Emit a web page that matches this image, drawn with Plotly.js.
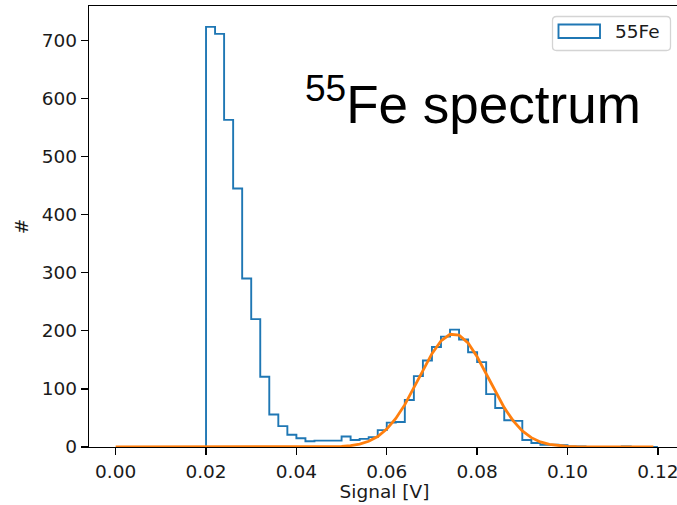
<!DOCTYPE html>
<html>
<head>
<meta charset="utf-8">
<script src="https://cdn.plot.ly/plotly-3.0.1.min.js"></script>
<style>
  html, body { margin: 0; padding: 0; overflow: hidden; background: #fff; }
  #chart { width: 684px; height: 505px; }
</style>
</head>
<body>
<div id="chart"></div>
<script>
// ---- data ----
const seriesName = "55Fe";
const binLow = 0.02;
const binWidth = 0.002;
// counts per 0.002 V bin, from 0.020 V to 0.120 V
const counts = [723, 711, 563, 445, 290, 220, 121, 56, 36, 21,
                15, 10, 11, 11, 11, 18, 12, 14, 17, 29,
                42, 43, 81, 122, 149, 172, 190, 202, 185, 163,
                146, 91, 67, 46, 45, 12, 7, 4, 4, 3,
                1, 1, 0, 0, 0, 0, 1, 0, 0, 0];
// fitted curve
const fitX = [0.000, 0.020, 0.040, 0.044, 0.046, 0.048, 0.050, 0.052, 0.054, 0.056, 0.058,
              0.060, 0.062, 0.064, 0.066, 0.068, 0.070, 0.072, 0.074, 0.076, 0.078,
              0.080, 0.082, 0.084, 0.086, 0.088, 0.090, 0.092, 0.094, 0.096, 0.098,
              0.100, 0.102, 0.104, 0.106, 0.110, 0.119];
const fitY = [0, 0, 0.01, 0.07, 0.18, 0.46, 1.1, 2.4, 5.1, 9.9, 18.1,
              30.8, 49.0, 72.9, 101.5, 132.0, 160.6, 182.5, 194.0, 192.6, 178.9,
              155.2, 126.0, 95.5, 67.7, 44.9, 27.8, 16.1, 8.7, 4.4, 2.1,
              0.9, 0.4, 0.15, 0.05, 0.01, 0];
const xTickVals = [0, 0.02, 0.04, 0.06, 0.08, 0.10, 0.12];
const xTickText = ["0.00", "0.02", "0.04", "0.06", "0.08", "0.10", "0.12"];
const yTickVals = [0, 100, 200, 300, 400, 500, 600, 700];
const xLabel = "Signal [V]";
const yLabel = "#";
const titleText = "<sup>55</sup>Fe spectrum";

// ---- build step outline ----
const stepX = [binLow];
const stepY = [0];
for (let i = 0; i < counts.length; i++) {
  stepX.push(binLow + i * binWidth);
  stepY.push(counts[i]);
}
stepX.push(binLow + counts.length * binWidth);
stepY.push(0);

// ---- layout geometry (pixels) ----
const W = 684, H = 505;
const M = { l: 89, r: 4, t: 6, b: 58 };
const PW = W - M.l - M.r, PH = H - M.t - M.b;
const px = (x) => (x - M.l) / PW;
const py = (y) => (H - M.b - y) / PH;

const tickFont = { family: "DejaVu Sans", size: 18.5, color: "#1a1a1a" };

// legend box (rounded)
const lb = { x0: 552.5, x1: 670.5, y0: 16.5, y1: 50.5, r: 4 };
function roundedPath(b) {
  const rx = b.r / PW, ry = b.r / PH;
  const x0 = px(b.x0), x1 = px(b.x1), yt = py(b.y0), yb = py(b.y1);
  return `M ${x0 + rx} ${yt} L ${x1 - rx} ${yt} Q ${x1} ${yt} ${x1} ${yt - ry} ` +
         `L ${x1} ${yb + ry} Q ${x1} ${yb} ${x1 - rx} ${yb} ` +
         `L ${x0 + rx} ${yb} Q ${x0} ${yb} ${x0} ${yb + ry} ` +
         `L ${x0} ${yt - ry} Q ${x0} ${yt} ${x0 + rx} ${yt} Z`;
}

const traces = [
  {
    type: "scatter", mode: "lines", name: seriesName,
    x: stepX, y: stepY,
    line: { shape: "hv", color: "#1f77b4", width: 1.9 },
    showlegend: false, hoverinfo: "skip"
  },
  {
    type: "scatter", mode: "lines", name: "fit",
    x: fitX, y: fitY,
    line: { color: "#ff7f0e", width: 2.8 },
    showlegend: false, hoverinfo: "skip"
  }
];

const layout = {
  width: W, height: H,
  margin: M,
  paper_bgcolor: "#fff", plot_bgcolor: "#fff",
  showlegend: false,
  xaxis: {
    range: [-0.0059, 0.1249],
    tickmode: "array", tickvals: xTickVals, ticktext: xTickText,
    ticks: "outside", ticklen: 7, tickwidth: 1.3, tickcolor: "#000",
    showline: true, linecolor: "#000", linewidth: 1.3, mirror: true,
    showgrid: false, zeroline: false,
    tickfont: tickFont,
    title: { text: xLabel, font: tickFont, standoff: 3 }
  },
  yaxis: {
    range: [0, 759],
    tickmode: "array", tickvals: yTickVals,
    ticks: "outside", ticklen: 7, tickwidth: 1.3, tickcolor: "#000",
    showline: true, linecolor: "#000", linewidth: 1.3, mirror: true,
    showgrid: false, zeroline: false,
    tickfont: tickFont,
    title: { text: yLabel, font: tickFont, standoff: 8 }
  },
  shapes: [
    { type: "path", xref: "paper", yref: "paper", path: roundedPath(lb),
      fillcolor: "rgba(255,255,255,0.8)", line: { color: "#d4d4d4", width: 1.3 } },
    { type: "rect", xref: "paper", yref: "paper",
      x0: px(558.5), x1: px(600), y0: py(38), y1: py(24.5),
      fillcolor: "rgba(0,0,0,0)", line: { color: "#1f77b4", width: 1.9 } }
  ],
  annotations: [
    { xref: "paper", yref: "paper", x: px(613), y: py(31.5),
      xanchor: "left", yanchor: "middle", showarrow: false,
      text: seriesName, font: tickFont },
    { xref: "paper", yref: "paper", x: px(303), y: py(100),
      xanchor: "left", yanchor: "middle", showarrow: false,
      text: titleText,
      font: { family: "Liberation Sans, Arial, sans-serif", size: 53, color: "#000" } }
  ]
};

Plotly.newPlot("chart", traces, layout, { staticPlot: true, displayModeBar: false });
</script>
</body>
</html>
